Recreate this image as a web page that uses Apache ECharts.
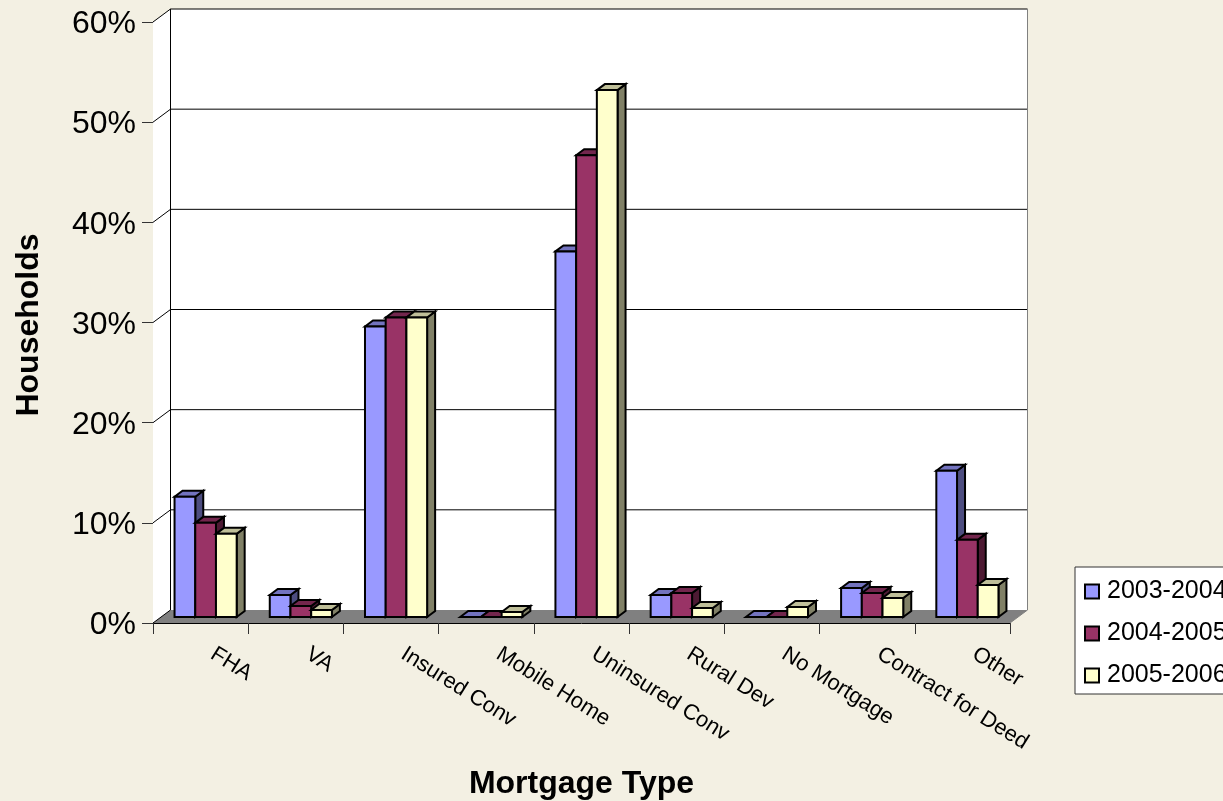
<!DOCTYPE html>
<html><head><meta charset="utf-8">
<style>html,body{margin:0;padding:0;background:#F3F0E3;overflow:hidden}#c{width:1223px;height:801px}</style>
<script src="https://cdn.jsdelivr.net/npm/echarts@6/dist/echarts.min.js"></script>
</head><body><div id="c"></div>
<script>
const categories = ['FHA','VA','Insured Conv','Mobile Home','Uninsured Conv','Rural Dev','No Mortgage','Contract for Deed','Other'];
const s2003 = [12.0,2.2,29.0,0,36.5,2.2,0,2.9,14.6];
const s2004 = [9.4,1.1,29.9,0,46.1,2.4,0,2.4,7.7];
const s2005 = [8.3,0.7,29.9,0.5,52.6,0.9,1.0,1.9,3.2];
const yTicks = [0,10,20,30,40,50,60];
const FONT = '"Liberation Sans", Arial, sans-serif';
const WALL_DX = 17.5, WALL_DY = -13;

function poly(points, fill, stroke, lw){
  return {type:'polygon', shape:{points}, style:{fill, stroke, lineWidth:lw, lineJoin:'miter'}};
}
function line(a,b,stroke,lw){
  return {type:'line', shape:{x1:a[0],y1:a[1],x2:b[0],y2:b[1]}, style:{stroke,lineWidth:lw}};
}
function wallItem(params, api){
  const n = categories.length;
  const o = api.coord([0,0]), band = api.size([1,0])[0];
  const x0 = o[0]-band/2, x1 = x0+band*n;
  const yb = o[1], yt = api.coord([0,60])[1];
  const c = [];
  c.push(poly([[x0+WALL_DX,yt+WALL_DY],[x1+WALL_DX,yt+WALL_DY],[x1+WALL_DX,yb+WALL_DY],[x0+WALL_DX,yb+WALL_DY]],'#fff',null,0));
  c.push(poly([[x0,yt],[x0+WALL_DX,yt+WALL_DY],[x0+WALL_DX,yb+WALL_DY],[x0,yb]],'#fff',null,0));
  c.push(poly([[x0,yb],[x0+WALL_DX,yb+WALL_DY],[x1+WALL_DX,yb+WALL_DY],[x1,yb]],'#808080',null,0));
  yTicks.forEach(t=>{
    const y = api.coord([0,t])[1];
    if(t>0) c.push(line([x0+WALL_DX,y+WALL_DY],[x1+WALL_DX,y+WALL_DY],'#000',1));
    c.push(line([x0,y],[x0+WALL_DX,y+WALL_DY],'#000',1));
  });
  c.push(line([x0+WALL_DX,yt+WALL_DY],[x0+WALL_DX,yb+WALL_DY],'#000',1));
  c.push(line([x1+WALL_DX,yt+WALL_DY],[x1+WALL_DX,yb+WALL_DY],'#808080',1));
  c.push(line([x1,yb],[x1+WALL_DX,yb+WALL_DY],'#808080',1));
  return {type:'group',children:c};
}
function barRender(seriesPos, front, top, side){
  return function(params, api){
    const cat = api.value(0), val = api.value(1);
    const base = api.coord([cat,0]), tip = api.coord([cat,val]);
    const band = api.size([1,0])[0], w = band*0.2175;
    const l = base[0]+5+(seriesPos-1.5)*w, r = l+w;
    const by = base[1]-6, ty = tip[1]-6;
    const dx = 8, dy = -6;
    const lw = 2, k = '#000';
    return {type:'group',children:[
      poly([[r,by],[r+dx,by+dy],[r+dx,ty+dy],[r,ty]],side,k,lw),
      poly([[l,ty],[l+dx,ty+dy],[r+dx,ty+dy],[r,ty]],top,k,lw),
      poly([[l,by],[r,by],[r,ty],[l,ty]],front,k,lw)
    ]};
  };
}
function barSeries(name, values, pos, front, top, side){
  return {type:'custom', name, coordinateSystem:'cartesian2d', clip:false, z:3+pos,
    itemStyle:{color:front}, encode:{x:0,y:1},
    data:values.map((v,i)=>[i,v]), renderItem:barRender(pos,front,top,side)};
}
const chart = echarts.init(document.getElementById('c'),null,{renderer:'canvas'});
chart.setOption({
  animation:false, backgroundColor:'#F3F0E3',
  textStyle:{fontFamily:FONT},
  grid:{left:153,right:213,top:22,bottom:178,outerBoundsMode:'none',containLabel:false},
  legend:{
    data:['2003-2004','2004-2005','2005-2006'], orient:'vertical', left:1075, top:567,
    padding:[12,60,6,9], itemWidth:14, itemHeight:14, itemGap:17, icon:'rect',
    backgroundColor:'#fff', borderColor:'#333', borderWidth:1,
    itemStyle:{borderColor:'#000',borderWidth:2},
    textStyle:{fontSize:25,color:'#000',fontFamily:FONT,padding:[0,0,0,3]},
    selectedMode:false
  },
  tooltip:{show:false},
  xAxis:{type:'category',data:categories,boundaryGap:true,
    axisLine:{show:true,lineStyle:{color:'#000',width:1}},
    axisTick:{show:true,length:11,lineStyle:{color:'#333',width:1}},
    axisLabel:{interval:0,rotate:-32,fontSize:22,color:'#000',margin:22,fontFamily:FONT,padding:[0,0,0,14]},
    name:'Mortgage Type',nameLocation:'middle',nameGap:145,
    nameTextStyle:{fontSize:32,fontWeight:'bold',color:'#000',fontFamily:FONT},
    splitLine:{show:false}
  },
  yAxis:{type:'value',min:0,max:60,interval:10,
    axisLine:{show:true,lineStyle:{color:'#000',width:1}},
    axisTick:{show:true,length:11,lineStyle:{color:'#333',width:1}},
    axisLabel:{formatter:v=>'{a|'+v+'%}',margin:17,
      rich:{a:{fontSize:32,color:'#000',fontFamily:FONT,padding:[5,0,0,0]}}},
    name:'Households',nameLocation:'middle',nameGap:108,nameRotate:90,
    nameTextStyle:{fontSize:32,fontWeight:'bold',color:'#000',fontFamily:FONT,padding:[0,5,0,0]},
    splitLine:{show:false}
  },
  series:[
    {type:'custom',name:'walls',coordinateSystem:'cartesian2d',clip:false,z:1,silent:true,
     data:[[0,0]],encode:{x:0,y:1},renderItem:wallItem},
    barSeries('2003-2004',s2003,0,'#9999FF','#7373BF','#4D4D80'),
    barSeries('2004-2005',s2004,1,'#993366','#73264D','#4D1A33'),
    barSeries('2005-2006',s2005,2,'#FFFFCC','#BFBF99','#808066')
  ]
});
</script></body></html>
